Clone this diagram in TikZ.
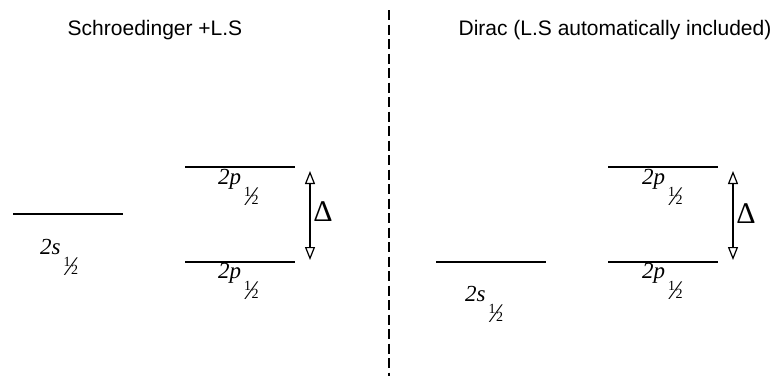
\documentclass[tikz,border=0pt]{standalone}
\usepackage{fontspec}
\setmainfont{Liberation Serif}
\newfontfamily\ttlfont{Liberation Sans}
\usetikzlibrary{arrows.meta}
\newcommand{\hlf}{\raisebox{-20pt}{\fontsize{14}{14}\selectfont\raisebox{8pt}{1}\kern-2pt\raisebox{-1.5pt}{\fontsize{27}{27}\selectfont ⁄}\kern-2pt 2}}
\newcommand{\lvl}[1]{{\itshape 2#1}\kern3pt\hlf}
\begin{document}
\begin{tikzpicture}[x=1pt,y=-1pt,
  level/.style={line width=1.2pt},
  title/.style={font=\ttlfont\fontsize{21}{25}\selectfont, inner sep=0pt},
  lab/.style={font=\fontsize{23}{27}\selectfont, inner sep=0pt, anchor=base west},
  delta/.style={font=\fontsize{30}{34}\selectfont, inner sep=0pt},
  split/.style={line width=1.5pt, dash pattern=on 10pt off 4.5pt},
  gap/.style={line width=1.2pt, {Triangle[open,length=13pt,width=10pt]}-{Triangle[open,length=13pt,width=10pt]}}]
\useasboundingbox (0,0) rectangle (774,376);
% titles
\node[title] (tl) at (155,30) {Schroedinger +L.S};
\node[title] (tr) at (615,30) {Dirac (L.S automatically included)};
% divider
\coordinate (dtop) at (389,10);
\coordinate (dbot) at (389,376);
\draw[split] (dtop) -- (dbot);
% left side
\draw[level] (13,214) -- (123,214);
\node[lab] (ls) at (40,254) {\lvl{s}};
\draw[level] (185,167) -- (295,167);
\draw[level] (185,262) -- (295,262);
\node[lab] (lpu) at (218,184) {\lvl{p}};
\node[lab] (lpl) at (218,278) {\lvl{p}};
\coordinate (la1) at (310,171);
\coordinate (la2) at (310,260);
\draw[gap] (la1) -- (la2);
\node[delta] (ld) at (323,212) {Δ};
% right side
\draw[level] (436,262) -- (546,262);
\node[lab] (rs) at (465,301) {\lvl{s}};
\draw[level] (608,167) -- (718,167);
\draw[level] (608,262) -- (718,262);
\node[lab] (rpu) at (642,184) {\lvl{p}};
\node[lab] (rpl) at (642,278) {\lvl{p}};
\coordinate (ra1) at (733,171);
\coordinate (ra2) at (733,260);
\draw[gap] (ra1) -- (ra2);
\node[delta] (rd) at (746,214) {Δ};
\end{tikzpicture}
\end{document}
